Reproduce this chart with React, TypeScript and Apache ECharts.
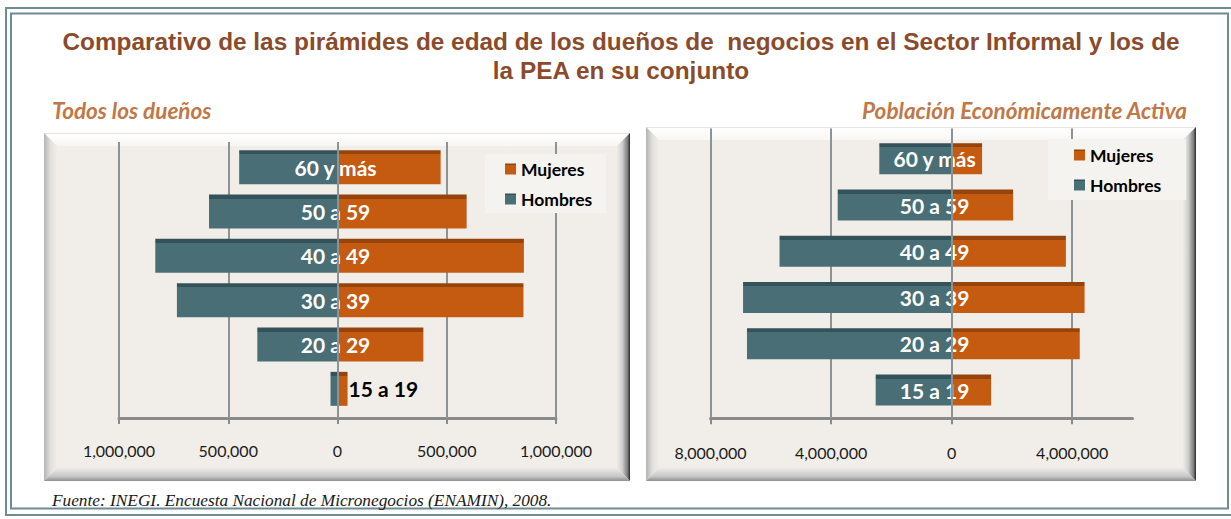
import React, { useEffect, useRef } from "react";
import * as echarts from "echarts";

const categories = ["15 a 19", "20 a 29", "30 a 39", "40 a 49", "50 a 59", "60 y más"];
const seriesNames = ["Mujeres", "Hombres"];

// Todos los dueños
const duenosHombres = [32000, 367000, 735000, 834000, 588000, 450000];
const duenosMujeres = [46000, 393000, 851000, 853000, 591000, 472000];

// Población Económicamente Activa
const peaHombres = [2520000, 6790000, 6920000, 5710000, 3780000, 2400000];
const peaMujeres = [1310000, 4250000, 4410000, 3790000, 2040000, 1010000];

const leftTicks = [-1000000, -500000, 0, 500000, 1000000];
const rightTicks = [-8000000, -4000000, 0, 4000000];

const titleText =
  "Comparativo de las pirámides de edad de los dueños de  negocios en el Sector Informal y los de\nla PEA en su conjunto";
const subtitleLeft = "Todos los dueños";
const subtitleRight = "Población Económicamente Activa";
const sourceText = "Fuente: INEGI. Encuesta Nacional de Micronegocios (ENAMIN), 2008.";

const TEAL = "#4A6E75";
const TEAL_TOP = "#34525A";
const ORANGE = "#C55A11";
const ORANGE_TOP = "#96440C";

function barFill(body: string, top: string, frac: number) {
  return new echarts.graphic.LinearGradient(0, 0, 0, 1, [
    { offset: 0, color: top },
    { offset: frac, color: top },
    { offset: frac + 0.001, color: body },
    { offset: 1, color: body },
  ]);
}

function bevel(x: number, y: number, w: number, h: number, b: number) {
  const G = echarts.graphic.LinearGradient;
  return [
    { type: "rect", z: -20, shape: { x, y, width: w, height: h }, style: { fill: "#F1EEE9" } },
    {
      type: "polygon", z: -19,
      shape: { points: [[x, y], [x + w, y], [x + w - b, y + b], [x + b, y + b]] },
      style: { fill: new G(0, 0, 0, 1, [{ offset: 0, color: "#D8D8D8" }, { offset: 0.12, color: "#FFFFFF" }, { offset: 1, color: "#F7F6F3" }]) },
    },
    {
      type: "polygon", z: -19,
      shape: { points: [[x, y], [x + b, y + b], [x + b, y + h - b], [x, y + h]] },
      style: { fill: new G(0, 0, 1, 0, [{ offset: 0, color: "#B4B4B4" }, { offset: 0.5, color: "#E2E0DC" }, { offset: 1, color: "#F1EEE9" }]) },
    },
    {
      type: "polygon", z: -19,
      shape: { points: [[x + w, y], [x + w, y + h], [x + w - b, y + h - b], [x + w - b, y + b]] },
      style: { fill: new G(1, 0, 0, 0, [{ offset: 0, color: "#262626" }, { offset: 0.18, color: "#7A7A7A" }, { offset: 0.6, color: "#CFCFCF" }, { offset: 1, color: "#EEECE8" }]) },
    },
    {
      type: "polygon", z: -19,
      shape: { points: [[x, y + h], [x + w, y + h], [x + w - b, y + h - b], [x + b, y + h - b]] },
      style: { fill: new G(0, 1, 0, 0, [{ offset: 0, color: "#8E8E8E" }, { offset: 0.35, color: "#C6C6C6" }, { offset: 1, color: "#EEECE8" }]) },
    },
  ];
}

const fmt = (v: number) => Math.abs(v).toLocaleString("en-US");

function makeXAxis(gridIndex: number, min: number, max: number, interval: number, ticks: number[], offset: number, tickLen: number, margin: number) {
  return {
    type: "value",
    gridIndex,
    position: "bottom",
    min,
    max,
    interval,
    offset,
    axisLine: { show: true, onZero: false, lineStyle: { color: "#8A8A8A", width: 3 } },
    axisTick: { show: true, inside: true, length: tickLen, customValues: ticks, lineStyle: { color: "#8C9397", width: 2 } },
    axisLabel: {
      show: true,
      customValues: ticks,
      margin,
      formatter: fmt,
      fontFamily: "Lato",
      fontSize: 16,
      color: "#1A1A1A",
    },
    splitLine: { show: false },
  };
}

// small outward ticks under the axis line (top-positioned axis moved down onto the bottom line)
function makeTickAxis(gridIndex: number, min: number, max: number, interval: number, ticks: number[], offset: number) {
  return {
    type: "value",
    gridIndex,
    position: "top",
    min,
    max,
    interval,
    offset,
    axisLine: { show: false, onZero: false },
    axisTick: { show: true, inside: true, length: 6, customValues: ticks, lineStyle: { color: "#8A8A8A", width: 2 } },
    axisLabel: { show: false },
    splitLine: { show: false },
  };
}

function makeYAxis(gridIndex: number, xIdx: number) {
  return {
    type: "category",
    gridIndex,
    data: categories,
    z: 3,
    axisLine: { show: true, onZero: true, onZeroAxisIndex: xIdx, lineStyle: { color: "#8C9397", width: 2 } },
    axisTick: { show: false },
    axisLabel: { show: false },
    splitLine: { show: false },
  };
}

export default function App() {
  const ref = useRef<HTMLDivElement>(null);

  useEffect(() => {
    if (!ref.current) return;
    const chart = echarts.init(ref.current, undefined, { renderer: "svg" });

    const labelBase = {
      show: true,
      position: "insideLeft",
      distance: 0,
      align: "center",
      verticalAlign: "middle",
      formatter: "{b}",
      color: "#FFFFFF",
      fontFamily: "Lato",
      fontWeight: "bold",
      fontSize: 21,
    };

    const leftMujeresData = duenosMujeres.map((v, i) =>
      categories[i] === "15 a 19"
        ? { value: v, label: { position: "right", align: "left", distance: 1, offset: [0, 0], color: "#000000" } }
        : v
    );

    const legendBase = {
      orient: "vertical",
      data: seriesNames,
      icon: "rect",
      itemWidth: 11,
      itemHeight: 11,
      itemGap: 10,
      backgroundColor: "#F5F3EF",
      textStyle: { fontFamily: "Lato", fontWeight: "bold", fontSize: 17.5, color: "#000000", lineHeight: 20 },
      selectedMode: false,
    };

    const LG = { top: 145, h: 266, off: 7 };
    const RG = { top: 135.6, h: 277.6, off: 5 };

    const option = {
      animation: false,
      backgroundColor: "#FFFFFF",
      textStyle: { fontFamily: "Lato" },
      graphic: [
        { type: "rect", z: -30, shape: { x: 6, y: 8, width: 1240, height: 507 }, style: { fill: "none", stroke: "#6E8C93", lineWidth: 2 } },
        { type: "rect", z: -30, shape: { x: 11, y: 13.5, width: 1217, height: 495 }, style: { fill: "none", stroke: "#6E8C93", lineWidth: 2 } },
        ...bevel(44, 133, 586, 348, 13),
        ...bevel(646, 127, 550, 354, 13),
        {
          type: "text", z: 5, x: 621, y: 57, scaleX: 1.06,
          style: { text: titleText, font: "bold 23px 'Liberation Sans', Arial, sans-serif", fill: "#8A4B2C", textAlign: "center", textVerticalAlign: "middle", lineHeight: 29 },
        },
        {
          type: "text", z: 5, x: 52, y: 110,
          style: { text: subtitleLeft, font: "italic bold 22.5px Lato, sans-serif", fill: "#C07848", textAlign: "left", textVerticalAlign: "middle" },
        },
        {
          type: "text", z: 5, x: 1187, y: 110,
          style: { text: subtitleRight, font: "italic bold 22.5px Lato, sans-serif", fill: "#C07848", textAlign: "right", textVerticalAlign: "middle" },
        },
        {
          type: "text", z: 5, x: 52, y: 500,
          style: { text: sourceText, font: "italic 17.3px 'Liberation Serif', 'Times New Roman', serif", fill: "#1A1A1A", textAlign: "left", textVerticalAlign: "middle" },
        },
      ],
      legend: [
        { ...legendBase, left: 485, top: 154, padding: [5, 14, 4, 20] },
        { ...legendBase, left: 1048, top: 139, padding: [6, 25, 5, 26] },
      ],
      grid: [
        { left: 119, top: LG.top, width: 437, height: LG.h, containLabel: false },
        { left: 710.5, top: RG.top, width: 422, height: RG.h, containLabel: false },
      ],
      xAxis: [
        makeXAxis(0, -1000000, 1000000, 500000, leftTicks, LG.off, LG.h + LG.off + 3, 24),
        makeXAxis(1, -8000000, 6000000, 4000000, rightTicks, RG.off, RG.h + RG.off + 7, 26),
        makeTickAxis(0, -1000000, 1000000, 500000, leftTicks, -(LG.h + LG.off)),
        makeTickAxis(1, -8000000, 6000000, 4000000, rightTicks, -(RG.h + RG.off)),
      ],
      yAxis: [makeYAxis(0, 0), makeYAxis(1, 1)],
      series: [
        {
          name: "Hombres", type: "bar", xAxisIndex: 0, yAxisIndex: 0, stack: "l", barWidth: 34,
          data: duenosHombres.map((v) => -v),
          itemStyle: { color: barFill(TEAL, TEAL_TOP, 0.12) },
        },
        {
          name: "Mujeres", type: "bar", xAxisIndex: 0, yAxisIndex: 0, stack: "l", barWidth: 34,
          data: leftMujeresData,
          itemStyle: { color: barFill(ORANGE, ORANGE_TOP, 0.12) },
          label: { ...labelBase, offset: [-2, 0] },
        },
        {
          name: "Hombres", type: "bar", xAxisIndex: 1, yAxisIndex: 1, stack: "r", barWidth: 31,
          data: peaHombres.map((v) => -v),
          itemStyle: { color: barFill(TEAL, TEAL_TOP, 0.13) },
        },
        {
          name: "Mujeres", type: "bar", xAxisIndex: 1, yAxisIndex: 1, stack: "r", barWidth: 31,
          data: peaMujeres,
          itemStyle: { color: barFill(ORANGE, ORANGE_TOP, 0.13) },
          label: { ...labelBase, offset: [-17, 0] },
        },
      ],
    };

    chart.setOption(option as any);
    return () => chart.dispose();
  }, []);

  return (
    <div
      ref={ref}
      style={{ position: "absolute", left: 0, top: 0, width: 1231, height: 519, background: "#FFFFFF" }}
    />
  );
}
